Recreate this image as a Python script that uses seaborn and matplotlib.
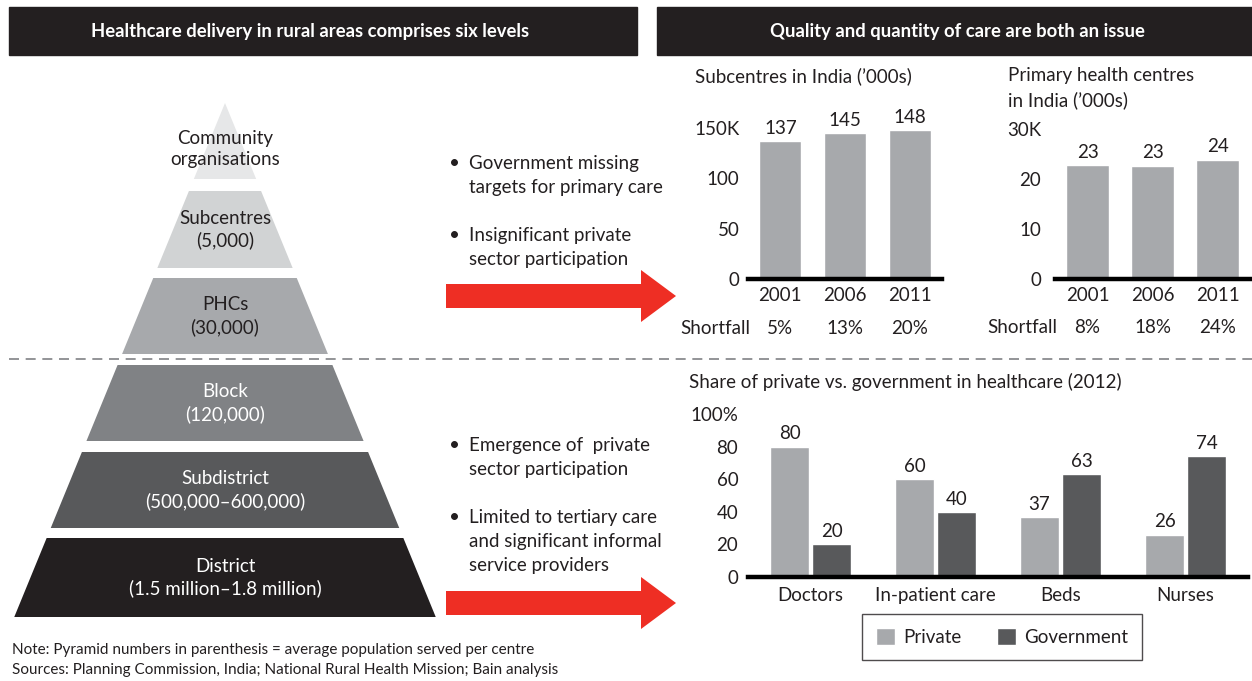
import matplotlib
matplotlib.use("Agg")
import matplotlib.pyplot as plt
import matplotlib.transforms as mtransforms
from matplotlib.patches import Polygon, Rectangle
import pandas as pd
import seaborn as sns

# --- data -----------------------------------------------------------------
pyramid_levels = ["Community\norganisations", "Subcentres\n(5,000)", "PHCs\n(30,000)",
                  "Block\n(120,000)", "Subdistrict\n(500,000\u2013600,000)",
                  "District\n(1.5 million\u20131.8 million)"]

years = ["2001", "2006", "2011"]
subcentres = [137, 145, 148]
subcentre_shortfall = ["5%", "13%", "20%"]
phcs = [22.8, 22.7, 23.9]
phc_shortfall = ["8%", "18%", "24%"]

share_categories = ["Doctors", "In-patient care", "Beds", "Nurses"]
private_share = [80, 60, 37, 26]
government_share = [20, 40, 63, 74]

upper_bullets = ["Government missing\ntargets for primary care",
                 "Insignificant private\nsector participation"]
lower_bullets = ["Emergence of  private\nsector participation",
                 "Limited to tertiary care\nand significant informal\nservice providers"]

# --- style ----------------------------------------------------------------
sns.set_theme(style="white")
plt.rcParams["font.family"] = ["Lato", "DejaVu Sans"]

INK = "#231f20"
LIGHT = "#a7a9ac"
DARK = "#58595b"
RED = "#ee2e24"
W, H = 1252, 681
FS = 13.5

fig = plt.figure(figsize=(W / 100, H / 100), dpi=100)
fig.patch.set_facecolor("white")

bg = fig.add_axes([0, 0, 1, 1])
bg.set_xlim(0, W)
bg.set_ylim(H, 0)
bg.axis("off")


def px_axes(x0, y0, x1, y1):
    ax = fig.add_axes([x0 / W, 1 - y1 / H, (x1 - x0) / W, (y1 - y0) / H])
    ax.set_facecolor("none")
    return ax


# header bars
bg.add_patch(Rectangle((9, 7), 628, 48, color=INK))
bg.add_patch(Rectangle((657, 7), W - 657, 48, color=INK))
bg.text(310, 32, "Healthcare delivery in rural areas comprises six levels", color="white",
        fontsize=13.3, fontweight="bold", ha="center", va="center")
bg.text(957, 32, "Quality and quantity of care are both an issue", color="white",
        fontsize=13.3, fontweight="bold", ha="center", va="center")

# dashed divider
bg.plot([9, W], [359, 359], color="#808285", lw=1.2, ls=(0, (6, 4)))

# pyramid
apex_x, apex_y, slope = 225, 103, 0.41
bands = [(103, 179), (191, 268), (278, 354), (365, 441), (452, 528), (538, 617)]
fills = ["#e6e7e8", "#d1d3d4", LIGHT, "#808285", DARK, INK]
text_cols = [INK, INK, INK, "white", "white", "white"]
for label, (top, bot), fc, tc in zip(pyramid_levels, bands, fills, text_cols):
    ht = slope * (top - apex_y)
    hb = slope * (bot - apex_y)
    pts = [(apex_x - ht, top), (apex_x + ht, top), (apex_x + hb, bot), (apex_x - hb, bot)]
    bg.add_patch(Polygon(pts, closed=True, color=fc, lw=0))
    cy = (top + bot) / 2 + (8 if top == 103 else 0)
    bg.text(apex_x, cy, label, ha="center", va="center", color=tc, fontsize=FS,
            linespacing=1.32)


# bullets
def bullets(items, y0, step):
    y = y0
    for item in items:
        bg.text(449, y, "\u2022", ha="left", va="center", color=INK, fontsize=FS)
        for line in item.split("\n"):
            bg.text(469, y, line, ha="left", va="center", color=INK, fontsize=FS)
            y += 24
        y += step


bullets(upper_bullets, 163, 24)
bullets(lower_bullets, 446, 24)

# red arrows
for yc in (296, 603):
    bg.add_patch(Polygon([(446, yc - 12), (641, yc - 12), (641, yc - 26), (676, yc),
                          (641, yc + 26), (641, yc + 12), (446, yc + 12)],
                         closed=True, color=RED, lw=0))


def style_axes(ax, ymax, ticks, ticklabels, pad_y, pad_x):
    ax.set_ylim(0, ymax)
    ax.set_yticks(ticks)
    ax.set_yticklabels(ticklabels)
    ax.set_xlabel("")
    ax.set_ylabel("")
    for side in ("top", "right", "left"):
        ax.spines[side].set_visible(False)
    ax.spines["bottom"].set_color("black")
    ax.spines["bottom"].set_linewidth(3.2)
    ax.tick_params(axis="y", length=0, pad=pad_y, labelsize=FS, labelcolor=INK)
    ax.tick_params(axis="x", length=0, pad=pad_x, labelsize=FS, labelcolor=INK)
    ax.grid(False)


def count_chart(ax, values, shortfall, ymax, ticks, ticklabels, pad_y):
    sns.barplot(x=years, y=values, ax=ax, color=LIGHT, saturation=1, width=0.65)
    ax.set_xlim(-0.5, 2.5)
    style_axes(ax, ymax, ticks, ticklabels, pad_y, 6)
    ax.bar_label(ax.containers[0], labels=[f"{v:.0f}" for v in values], padding=3,
                 fontsize=FS, color=INK)
    trans = mtransforms.blended_transform_factory(ax.transData, ax.transAxes)
    ax.text(-0.47, -0.325, "Shortfall", transform=trans, ha="right", va="center",
            fontsize=FS, color=INK)
    for i, s in enumerate(shortfall):
        ax.text(i, -0.325, s, transform=trans, ha="center", va="center",
                fontsize=FS, color=INK)


ax1 = px_axes(748, 128, 942, 279)
count_chart(ax1, subcentres, subcentre_shortfall, 150, [0, 50, 100, 150],
            ["0", "50", "100", "150K"], 6)
bg.text(695, 76, "Subcentres in India (\u2019000s)", ha="left", va="center",
        fontsize=FS, color=INK)

ax2 = px_axes(1055, 129, 1250, 279)
count_chart(ax2, phcs, phc_shortfall, 30, [0, 10, 20, 30], ["0", "10", "20", "30K"], 10)
bg.text(1008, 76, "Primary health centres", ha="left", va="center", fontsize=FS, color=INK)
bg.text(1008, 100, "in India (\u2019000s)", ha="left", va="center", fontsize=FS, color=INK)

# share chart
share = pd.DataFrame({
    "category": share_categories * 2,
    "share": private_share + government_share,
    "sector": ["Private"] * len(share_categories) + ["Government"] * len(share_categories),
})
ax3 = px_axes(748, 414, 1248, 577)
sns.barplot(data=share, x="category", y="share", hue="sector", ax=ax3,
            palette=[LIGHT, DARK], saturation=1, width=0.672, gap=0.05)
ax3.set_xlim(-0.5, 3.5)
style_axes(ax3, 100, [0, 20, 40, 60, 80, 100], ["0", "20", "40", "60", "80", "100%"], 7, 7)
for cont in ax3.containers:
    ax3.bar_label(cont, fmt="%d", padding=3, fontsize=FS, color=INK)
handles, labels = ax3.get_legend_handles_labels()
ax3.legend(handles, labels, loc="center", ncol=2, bbox_to_anchor=(1002 / W, 1 - 637 / H),
           bbox_transform=fig.transFigure, frameon=True, fancybox=False, edgecolor=INK,
           fontsize=FS, handlelength=1.0, handleheight=1.0, handletextpad=0.45,
           columnspacing=1.9, borderpad=0.75, labelcolor=INK)
ax3.get_legend().get_frame().set_linewidth(1.0)
bg.text(689, 382, "Share of private vs. government in healthcare (2012)", ha="left",
        va="center", fontsize=FS, color=INK)

# footnotes
bg.text(12, 650, "Note: Pyramid numbers in parenthesis = average population served per centre",
        ha="left", va="center", fontsize=11, color=INK)
bg.text(12, 670, "Sources: Planning Commission, India; National Rural Health Mission; Bain analysis",
        ha="left", va="center", fontsize=11, color=INK)

fig.savefig("out.png", dpi=100, facecolor="white")
